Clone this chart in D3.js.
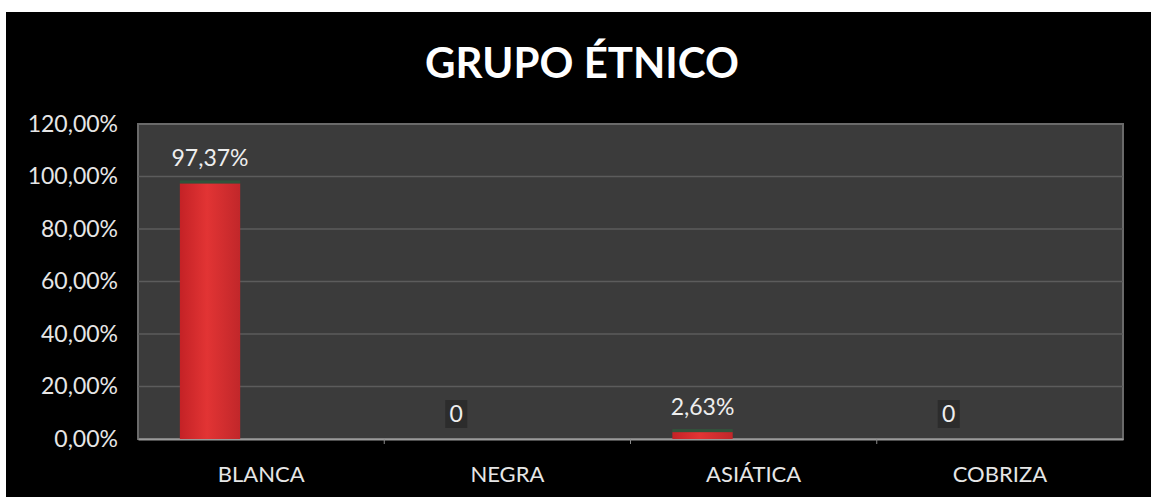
<!DOCTYPE html>
<html>
<head>
<meta charset="utf-8">
<script src="https://cdn.jsdelivr.net/npm/d3@7"></script>
<style>
    body { margin: 0; background: #fff; }
    svg text { font-family: Lato, "Open Sans", sans-serif; }
</style>
</head>
<body>
<div id="chart"></div>
<script>
// data
const categories = ["BLANCA", "NEGRA", "ASIÁTICA", "COBRIZA"];
const values = [0.9737, 0, 0.0263, 0];
const yTicks = [0, 0.2, 0.4, 0.6, 0.8, 1.0, 1.2];
const chartTitle = "GRUPO ÉTNICO";

const W = 1151, H = 497;
const margin = { top: 124, right: 28, bottom: 58, left: 138 };

// spanish number format: 97,37%
const es = d3.formatLocale({ decimal: ",", thousands: ".", grouping: [3], currency: ["", "€"], percent: "%" });
const pct = es.format(".2%");

const svg = d3.select("#chart")
    .append("svg")
    .attr("width", W)
    .attr("height", H);

// black panel (white strip round it like the photo)
svg.append("rect")
    .attr("x", 6).attr("y", 12)
    .attr("width", W - 6).attr("height", H - 12)
    .attr("fill", "#000");

const x = d3.scaleBand()
    .domain(categories)
    .range([margin.left, W - margin.right]);

const y = d3.scaleLinear()
    .domain([0, 1.2])
    .range([H - margin.bottom, margin.top]);

// plot area
svg.append("rect")
    .attr("x", margin.left)
    .attr("y", margin.top)
    .attr("width", W - margin.right - margin.left)
    .attr("height", y(0) - margin.top)
    .attr("fill", "#3b3b3b")
    .attr("stroke", "#6a6a6a")
    .attr("stroke-width", 2);

// gridlines
svg.append("g")
    .selectAll("line")
    .data(yTicks.filter(t => t > 0 && t < 1.2))
    .enter()
    .append("line")
    .attr("x1", margin.left)
    .attr("x2", W - margin.right)
    .attr("y1", d => y(d))
    .attr("y2", d => y(d))
    .attr("stroke", "#5c5c5c")
    .attr("stroke-width", 1.5);

// y axis
const yAxis = svg.append("g")
    .attr("transform", `translate(${margin.left},0)`)
    .call(d3.axisLeft(y).tickValues(yTicks).tickFormat(pct).tickSize(0).tickPadding(20));
yAxis.select(".domain").remove();
yAxis.selectAll("text")
    .attr("fill", "#e6e6e6")
    .style("font-size", "23px");

// x axis
const xAxis = svg.append("g")
    .attr("transform", `translate(0,${y(0)})`)
    .call(d3.axisBottom(x).tickSize(0).tickPadding(27));
xAxis.select(".domain").attr("stroke", "#9a9a9a").attr("stroke-width", 2);
xAxis.selectAll("text")
    .attr("fill", "#e6e6e6")
    .style("font-size", "22px");

// small ticks between categories
svg.append("g")
    .selectAll("line")
    .data(categories.slice(1))
    .enter()
    .append("line")
    .attr("x1", d => x(d))
    .attr("x2", d => x(d))
    .attr("y1", y(0))
    .attr("y2", y(0) + 5)
    .attr("stroke", "#8a8a8a");

// bar gradient
const defs = svg.append("defs");
const grad = defs.append("linearGradient").attr("id", "barGrad");
grad.append("stop").attr("offset", "0%").attr("stop-color", "#c42226");
grad.append("stop").attr("offset", "45%").attr("stop-color", "#e23434");
grad.append("stop").attr("offset", "100%").attr("stop-color", "#c1272a");

// bar sits on the left part of each band
const barOffset = 0.17, barFrac = 0.245;
const bw = x.bandwidth() * barFrac;

const bars = categories.map((c, i) => ({ cat: c, value: values[i] }));

svg.selectAll(".bar")
    .data(bars)
    .enter()
    .append("rect")
    .attr("class", "bar")
    .attr("x", d => x(d.cat) + x.bandwidth() * barOffset)
    .attr("y", d => y(d.value))
    .attr("width", bw)
    .attr("height", d => y(0) - y(d.value))
    .attr("fill", "url(#barGrad)");

// dark green top edge of bars
svg.selectAll(".barTop")
    .data(bars.filter(d => d.value > 0))
    .enter()
    .append("rect")
    .attr("x", d => x(d.cat) + x.bandwidth() * barOffset)
    .attr("y", d => y(d.value) - 3)
    .attr("width", bw)
    .attr("height", 3)
    .attr("fill", "#2f5a3c")
    .style("opacity", 0.8);

// value labels
const lbl = svg.selectAll(".lbl")
    .data(bars)
    .enter()
    .append("g")
    .attr("transform", d => `translate(${x(d.cat) + x.bandwidth() * barOffset + bw / 2},${y(d.value) - 25})`);

lbl.filter(d => d.value === 0)
    .append("rect")
    .attr("x", -11).attr("y", -14)
    .attr("width", 22).attr("height", 28)
    .attr("fill", "#2c2c2c");

lbl.append("text")
    .attr("text-anchor", "middle")
    .attr("dy", "0.35em")
    .attr("fill", "#eeeeee")
    .style("font-size", "23px")
    .text(d => d.value === 0 ? "0" : pct(d.value));

// title
svg.append("text")
    .attr("x", 582)
    .attr("y", 78)
    .attr("text-anchor", "middle")
    .attr("fill", "#fff")
    .style("font-size", "42px")
    .style("font-weight", "bold")
    .text(chartTitle);
</script>
</body>
</html>
